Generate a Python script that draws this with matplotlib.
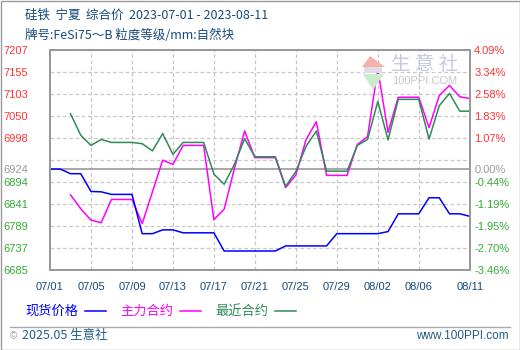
import numpy as np
import pandas as pd
import matplotlib
matplotlib.use("Agg")
import matplotlib.pyplot as plt
from matplotlib.lines import Line2D
from matplotlib.patches import Polygon, Rectangle

CJK = ['Noto Sans CJK SC', 'DejaVu Sans']
NUM = 'Liberation Sans'

# daily series, 2023-07-01 .. 2023-08-11 (weekends carried forward)
days = pd.date_range("2023-07-01", "2023-08-11", freq="D")
spot = [6924, 6924, 6913, 6913, 6871, 6870, 6864, 6864, 6864, 6771,
        6771, 6780, 6780, 6773, 6773, 6773, 6773, 6730, 6730, 6730,
        6730, 6730, 6730, 6742, 6742, 6742, 6742, 6742, 6771, 6771,
        6771, 6771, 6771, 6776, 6818, 6818, 6818, 6856, 6856, 6818,
        6818, 6812]
# futures start on 07/03
main = [6863, 6830, 6803, 6797, 6852, 6852, 6852, 6795, 6870, 6945,
        6935, 6980, 6980, 6980, 6804, 6829, 6925, 7014, 6951, 6951,
        6951, 6880, 6910, 6994, 7036, 6909, 6909, 6909, 6982, 7001,
        7160, 7011, 7094, 7094, 7094, 7022, 7098, 7122, 7095, 7091]
near = [7055, 7004, 6980, 6994, 6987, 6987, 6987, 6984, 6967, 7008,
        6959, 6987, 6987, 6987, 6912, 6888, 6935, 6996, 6953, 6953,
        6953, 6883, 6918, 6978, 7014, 6919, 6919, 6919, 6980, 6994,
        7084, 6993, 7089, 7089, 7089, 6995, 7074, 7103, 7061, 7061]

base = 6924
y_min, y_max = 6685, 7207
left_labels = ['6685', '6737', '6789', '6841', '6894', '', '6998', '7050', '7103', '7155', '7207']
right_labels = ['-3.46%', '-2.70%', '-1.95%', '-1.19%', '-0.44%', '', '1.07%', '1.83%', '2.58%', '3.34%', '4.09%']
xtick_days = ["07/01", "07/05", "07/09", "07/13", "07/17", "07/21", "07/25",
              "07/29", "08/02", "08/06", "08/11"]

RED, GREEN, GRAY = '#ff3333', '#33aa33', '#999999'
NAVY = '#174a7c'

W, H = 520, 350
fig = plt.figure(figsize=(W / 100, H / 100), dpi=100)
fig.patch.set_facecolor('white')


def fx(px):
    return px / W


def fy(py):
    return 1 - py / H


ax = fig.add_axes([fx(50), fy(270), fx(420), 220.5 / H])
fut_days = days[2:]
ax.plot(days, spot, color='#0000ff', lw=1.1, zorder=4)
ax.plot(fut_days, main, color='#ff00ff', lw=1.1, zorder=3)
ax.plot(fut_days, near, color='#2e8b57', lw=1.1, zorder=3)

ax.set_xlim(days[0], days[-1])
ax.set_ylim(y_min, y_max)

levels = np.linspace(y_min, y_max, 11)
for lv in levels:
    ax.axhline(lv, color='#c8c8c8', lw=0.9, ls=(0, (3, 2)), zorder=1)
ax.axhline(base, color='#999999', lw=1.2, zorder=2)

xt = [pd.Timestamp("2023/" + d) for d in xtick_days]
for t in xt[1:-1]:
    ax.axvline(t, color='#c8c8c8', lw=0.9, ls=(0, (3, 2)), zorder=1)

ax.set_xticks(xt)
ax.set_xticklabels(xtick_days, fontsize=8, family=NUM, color=NAVY)
ax.tick_params(axis='x', length=0, pad=9)

yt = list(levels) + [base]
ax.set_yticks(yt)
ax.set_yticklabels(left_labels + ['6924'], fontsize=8, family=NUM)
ax.tick_params(axis='y', length=0, pad=16)
for lab, v in zip(ax.get_yticklabels(), yt):
    lab.set_color(GRAY if v == base else (RED if v > base else GREEN))

ax2 = ax.twinx()
ax2.set_ylim(y_min, y_max)
ax2.set_yticks(yt)
ax2.set_yticklabels(right_labels + ['0.00%'], fontsize=8, family=NUM)
ax2.tick_params(axis='y', length=0, pad=3)
for lab, v in zip(ax2.get_yticklabels(), yt):
    lab.set_color(GRAY if v == base else (RED if v > base else GREEN))

for a in (ax, ax2):
    for s in a.spines.values():
        s.set_color('#999999')
        s.set_linewidth(1.3)

# watermark
fig.patches.append(Polygon([[fx(362), fy(67)], [fx(370), fy(56)], [fx(385), fy(67)]],
                           closed=True, transform=fig.transFigure,
                           facecolor='#f3b3aa', edgecolor='none', zorder=0.5))
fig.patches.append(Rectangle((fx(364), fy(73)), fx(18), 6 / H, transform=fig.transFigure,
                             facecolor='#dddde6', edgecolor='none', zorder=0.5))
fig.patches.append(Polygon([[fx(363), fy(74)], [fx(373), fy(90)], [fx(384), fy(74)]],
                           closed=True, transform=fig.transFigure,
                           facecolor='#c9eccb', edgecolor='none', zorder=0.5))
fig.text(fx(391), fy(65), "生 意 社", fontsize=14, family=CJK, color='#c6cbdd',
         va='center', ha='left', zorder=0.5)
fig.text(fx(392), fy(81), "100PPI.COM", fontsize=8, family=NUM, color='#c8c8c8',
         va='center', ha='left', zorder=0.5)

# title block
fig.text(fx(25), fy(15), "硅铁  宁夏  综合价  2023-07-01 - 2023-08-11",
         fontsize=9, family=CJK, color=NAVY, va='center', ha='left')
fig.text(fx(25), fy(35), "牌号:FeSi75～B 粒度等级/mm:自然块",
         fontsize=9, family=CJK, color=NAVY, va='center', ha='left')

# legend row
legend_items = [("现货价格", '#0000ff', 25), ("主力合约", '#ff00ff', 120), ("最近合约", '#2e8b57', 215)]
for name, col, x0 in legend_items:
    fig.text(fx(x0), fy(311), name, fontsize=9.5, family=CJK, color=col, va='center', ha='left')
    fig.lines.append(Line2D([fx(x0 + 60), fx(x0 + 81)], [fy(311), fy(311)],
                            transform=fig.transFigure, color=col, lw=1.1))

# footer
fig.lines.append(Line2D([fx(10), fx(510)], [fy(327), fy(327)],
                        transform=fig.transFigure, color='#aaaaaa', lw=1))
fig.text(fx(10), fy(336), "©", fontsize=7, family=NUM, color='#8aa0b0', va='center', ha='left')
fig.text(fx(22), fy(336), "2025.05 生意社", fontsize=9, family=CJK, color='#1f5f85',
         va='center', ha='left')
fig.text(fx(509), fy(336), "www.100PPI.com", fontsize=8.5, family=NUM, color='#1f5f85',
         va='center', ha='right')

# outer border
fig.patches.append(Rectangle((0.5 / W, 0.5 / H), 1 - 1 / W, 1 - 1 / H, transform=fig.transFigure,
                             facecolor='none', edgecolor='#999999', lw=1))

fig.savefig("out.png", dpi=100)
